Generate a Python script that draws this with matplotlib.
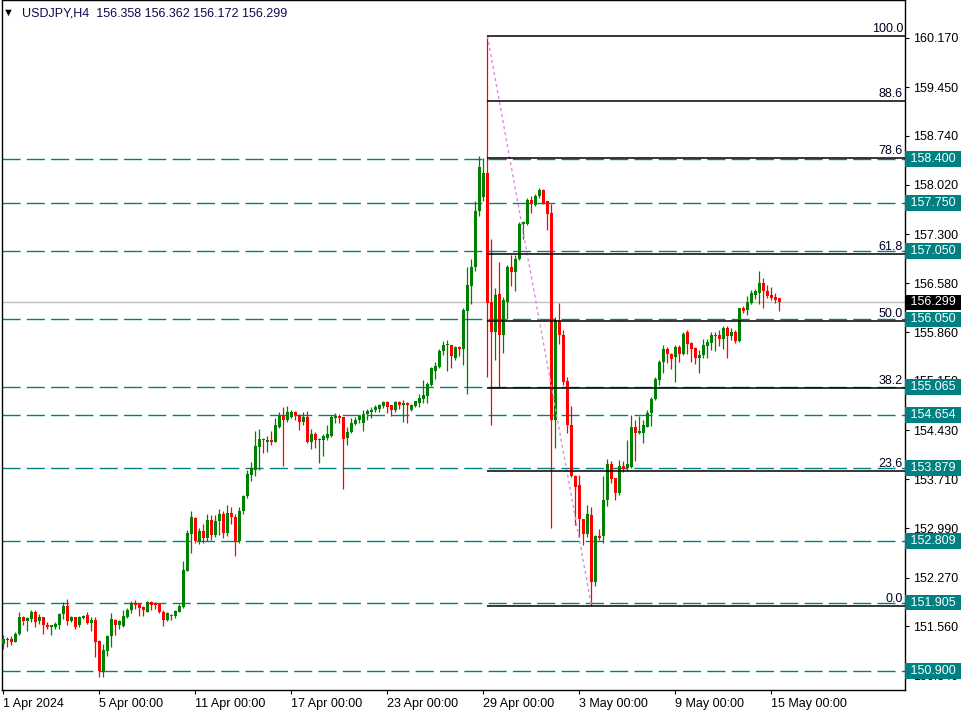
import numpy as np
import pandas as pd
import matplotlib
matplotlib.use("Agg")
import matplotlib.pyplot as plt

plt.rcParams['font.family'] = ['Liberation Sans', 'DejaVu Sans']

# =========================
# DATA  (USDJPY H4, 1 Apr - 15 May 2024)
# =========================
symbol = "USDJPY,H4"

opens = [
    151.30, 151.37, 151.37, 151.33, 151.44, 151.69, 151.63, 151.67, 151.77, 151.64,
    151.69, 151.58, 151.55, 151.54, 151.58, 151.73, 151.85, 151.64, 151.69, 151.57,
    151.68, 151.72, 151.61, 151.65, 151.34, 150.90, 151.20, 151.41, 151.65, 151.57,
    151.56, 151.70, 151.79, 151.90, 151.88, 151.84, 151.77, 151.91, 151.89, 151.88,
    151.77, 151.65, 151.72, 151.71, 151.77, 151.84, 152.37, 152.91, 153.14, 152.80,
    152.95, 152.85, 153.12, 152.90, 153.10, 153.20, 152.92, 153.22, 153.15, 152.80,
    153.25, 153.46, 153.77, 153.85, 154.18, 154.30, 154.26, 154.29, 154.26, 154.48,
    154.65, 154.57, 154.62, 154.69, 154.65, 154.55, 154.62, 154.26, 154.37, 154.28,
    154.28, 154.32, 154.35, 154.61, 154.64, 154.62, 154.31, 154.40, 154.52, 154.57,
    154.54, 154.67, 154.70, 154.72, 154.74, 154.78, 154.84, 154.79, 154.73, 154.84,
    154.80, 154.82, 154.73, 154.78, 154.83, 154.88, 154.93, 155.09, 155.30, 155.36,
    155.58, 155.68, 155.68, 155.49, 155.65, 155.62, 156.17, 156.54, 156.82, 157.63,
    157.84, 158.19, 156.30, 155.87, 156.42, 155.82, 156.31, 156.82, 156.75, 156.93,
    157.45, 157.45, 157.80, 157.73, 157.85, 157.94, 157.78, 157.61, 154.58, 156.02,
    155.82, 155.15, 154.50, 153.76, 153.62, 153.13, 152.91, 153.19, 152.20, 152.88,
    152.88, 153.40, 153.93, 153.73, 153.51, 153.90, 153.87, 153.89, 154.47, 154.39,
    154.39, 154.48, 154.68, 154.88, 155.16, 155.42, 155.61, 155.54, 155.50, 155.64,
    155.54, 155.86, 155.70, 155.63, 155.49, 155.53, 155.66, 155.71, 155.81, 155.82,
    155.76, 155.92, 155.80, 155.87, 155.74, 156.21, 156.19, 156.29, 156.41, 156.44,
    156.59, 156.47, 156.41, 156.38, 156.358,
]

highs = [
    151.43, 151.40, 151.41, 151.48, 151.77, 151.71, 151.70, 151.79, 151.80, 151.73,
    151.70, 151.62, 151.58, 151.62, 151.75, 151.91, 151.96, 151.71, 151.70, 151.71,
    151.72, 151.76, 151.70, 151.69, 151.35, 151.30, 151.43, 151.75, 151.66, 151.65,
    151.79, 151.82, 151.93, 151.94, 151.89, 151.85, 151.93, 151.92, 151.91, 151.89,
    151.79, 151.77, 151.74, 151.79, 151.89, 152.51, 152.97, 153.24, 153.15, 153.00,
    153.05, 153.20, 153.18, 153.18, 153.28, 153.25, 153.33, 153.30, 153.20, 153.30,
    153.48, 153.85, 153.96, 154.42, 154.45, 154.31, 154.34, 154.42, 154.61, 154.70,
    154.77, 154.78, 154.72, 154.71, 154.67, 154.70, 154.71, 154.45, 154.40, 154.32,
    154.37, 154.50, 154.65, 154.68, 154.66, 154.62, 154.48, 154.61, 154.62, 154.65,
    154.73, 154.74, 154.76, 154.79, 154.81, 154.85, 154.85, 154.80, 154.86, 154.86,
    154.87, 154.84, 154.81, 154.86, 154.96, 155.16, 155.13, 155.36, 155.42, 155.62,
    155.73, 155.75, 155.68, 155.66, 155.66, 156.21, 156.82, 156.94, 157.78, 158.44,
    158.42, 160.20, 157.23, 156.51, 156.89, 156.38, 156.85, 156.99, 156.99, 157.48,
    157.49, 157.82, 157.85, 157.89, 157.98, 157.96, 157.79, 157.74, 156.09, 156.29,
    155.90, 155.20, 154.78, 153.77, 153.77, 153.13, 153.33, 153.31, 152.90, 152.98,
    153.76, 154.01, 153.98, 153.73, 153.99, 153.97, 154.29, 154.65, 154.58, 154.64,
    154.58, 154.73, 154.91, 155.20, 155.46, 155.68, 155.65, 155.56, 155.68, 155.68,
    155.87, 155.90, 155.72, 155.65, 155.60, 155.76, 155.77, 155.87, 155.86, 155.90,
    155.95, 155.95, 155.92, 155.90, 156.22, 156.25, 156.39, 156.48, 156.49, 156.76,
    156.65, 156.55, 156.53, 156.43, 156.362,
]

lows = [
    151.22, 151.25, 151.28, 151.32, 151.43, 151.57, 151.49, 151.62, 151.55, 151.59,
    151.45, 151.52, 151.43, 151.52, 151.52, 151.67, 151.57, 151.62, 151.52, 151.55,
    151.67, 151.59, 151.49, 151.11, 150.81, 150.81, 151.12, 151.26, 151.43, 151.52,
    151.55, 151.68, 151.75, 151.81, 151.71, 151.71, 151.76, 151.80, 151.81, 151.75,
    151.56, 151.64, 151.65, 151.68, 151.76, 151.83, 152.36, 152.63, 152.78, 152.76,
    152.78, 152.80, 152.82, 152.86, 152.90, 152.85, 152.88, 153.05, 152.59, 152.78,
    153.20, 153.44, 153.69, 153.75, 153.85, 154.10, 154.11, 154.21, 154.25, 154.46,
    153.90, 154.55, 154.60, 154.58, 154.43, 154.50, 154.24, 154.15, 154.17, 153.95,
    154.05, 154.28, 154.33, 154.54, 154.53, 153.57, 154.21, 154.38, 154.50, 154.54,
    154.41, 154.57, 154.60, 154.69, 154.70, 154.75, 154.68, 154.64, 154.70, 154.74,
    154.55, 154.54, 154.71, 154.76, 154.76, 154.82, 154.83, 155.07, 155.18, 155.34,
    155.53, 155.30, 155.34, 155.46, 155.51, 155.38, 154.96, 156.28, 156.76, 157.56,
    157.79, 155.20, 154.50, 155.45, 155.04, 155.56, 156.05, 156.54, 156.47, 156.92,
    157.23, 157.43, 157.61, 157.71, 157.82, 157.74, 157.36, 153.00, 154.17, 155.69,
    155.09, 154.39, 153.74, 153.04, 152.87, 152.74, 152.87, 151.86, 152.15, 152.82,
    152.78, 153.32, 153.65, 153.41, 153.48, 153.81, 153.84, 153.87, 153.97, 154.37,
    154.24, 154.47, 154.49, 154.87, 155.09, 155.27, 155.41, 155.33, 155.14, 155.42,
    155.53, 155.54, 155.42, 155.40, 155.26, 155.48, 155.48, 155.60, 155.59, 155.66,
    155.61, 155.49, 155.75, 155.71, 155.72, 156.15, 156.11, 156.27, 156.35, 156.27,
    156.22, 156.37, 156.34, 156.29, 156.172,
]

closes = [
    151.37, 151.35, 151.33, 151.45, 151.69, 151.63, 151.68, 151.77, 151.62, 151.69,
    151.58, 151.55, 151.57, 151.59, 151.74, 151.85, 151.64, 151.69, 151.55, 151.69,
    151.71, 151.61, 151.65, 151.33, 150.90, 151.21, 151.42, 151.67, 151.57, 151.63,
    151.71, 151.80, 151.90, 151.87, 151.83, 151.80, 151.91, 151.87, 151.87, 151.76,
    151.65, 151.75, 151.71, 151.78, 151.85, 152.38, 152.92, 153.15, 152.80, 152.95,
    152.85, 153.12, 152.90, 153.10, 153.20, 152.92, 153.22, 153.15, 152.80, 153.25,
    153.46, 153.79, 153.87, 154.19, 154.30, 154.28, 154.29, 154.26, 154.50, 154.64,
    154.57, 154.69, 154.69, 154.65, 154.55, 154.62, 154.26, 154.37, 154.28, 154.30,
    154.34, 154.37, 154.62, 154.64, 154.61, 154.30, 154.40, 154.53, 154.58, 154.64,
    154.67, 154.71, 154.73, 154.76, 154.80, 154.84, 154.77, 154.73, 154.84, 154.80,
    154.82, 154.80, 154.80, 154.85, 154.90, 154.94, 155.11, 155.34, 155.37, 155.59,
    155.68, 155.69, 155.51, 155.65, 155.61, 156.19, 156.55, 156.82, 157.64, 158.28,
    158.19, 156.29, 155.87, 156.41, 155.82, 156.33, 156.82, 156.75, 156.94, 157.45,
    157.47, 157.80, 157.74, 157.86, 157.94, 157.76, 157.59, 154.58, 156.04, 155.82,
    155.14, 154.50, 153.76, 153.60, 153.13, 152.91, 153.20, 152.20, 152.88, 152.85,
    153.41, 153.93, 153.72, 153.51, 153.90, 153.86, 153.93, 154.47, 154.39, 154.41,
    154.50, 154.68, 154.88, 155.17, 155.43, 155.61, 155.54, 155.47, 155.64, 155.55,
    155.84, 155.69, 155.61, 155.48, 155.53, 155.68, 155.72, 155.82, 155.82, 155.77,
    155.92, 155.80, 155.87, 155.74, 156.21, 156.18, 156.30, 156.44, 156.47, 156.59,
    156.47, 156.39, 156.37, 156.33, 156.299,
]

# horizontal levels drawn by hand on the chart
levels = [158.400, 157.750, 157.050, 156.050, 155.065, 154.654, 153.879, 152.809, 151.905, 150.900]
last_price = 156.299

# fibonacci retracement
fib_high = 160.20
fib_low = 151.86
fib_high_time = "2024-04-29 04:00"
fib_low_time = "2024-05-03 12:00"
fib_levels = [0.0, 23.6, 38.2, 50.0, 61.8, 78.6, 88.6, 100.0]

price_ticks = [160.170, 159.450, 158.740, 158.020, 157.300, 156.580, 155.860,
               155.150, 154.430, 153.710, 152.990, 152.270, 151.560, 150.840]

# =========================
# BAR TIMES
# =========================
days = pd.bdate_range("2024-04-01", "2024-05-15")
bar_times = [d + pd.Timedelta(hours=h) for d in days for h in range(0, 24, 4)][:len(opens)]
n = len(opens)
x = np.arange(n)

o = np.array(opens)
h = np.array(highs)
l = np.array(lows)
c = np.array(closes)

GREEN = "#008000"
RED = "#ff0000"
TEAL = "#008080"
col = np.where(c >= o, GREEN, RED)

# =========================
# FIGURE
# =========================
W, H = 968, 718
fig = plt.figure(figsize=(W / 100, H / 100), dpi=100)
fig.patch.set_facecolor("white")
ax = fig.add_axes([2 / W, 28 / H, 903 / W, 690 / H])

ax.set_xlim(-0.35, 225.4)
ax.set_ylim(150.624, 160.726)

# level lines
for lv in levels:
    ax.axhline(lv, color=TEAL, lw=1.0, ls=(0, (13, 4.5)), zorder=1)
ax.axhline(last_price, color="#c0c0c0", lw=1.0, zorder=1)

# candles
ax.vlines(x, l, h, colors=col, lw=0.9, zorder=3)
body_low = np.minimum(o, c)
body_h = np.maximum(np.abs(c - o), 0.014)
ax.bar(x, body_h, bottom=body_low, width=0.72, color=col, lw=0, zorder=4)

# fibonacci
i_hi = bar_times.index(pd.Timestamp(fib_high_time))
i_lo = bar_times.index(pd.Timestamp(fib_low_time))
ax.plot([i_hi, i_lo], [fib_high, fib_low], color="#d88fd8", lw=1.0,
        ls=(0, (2.2, 2.2)), zorder=5)
xr = ax.get_xlim()[1]
for lvl in fib_levels:
    p = fib_low + lvl / 100 * (fib_high - fib_low)
    ax.hlines(p, i_hi, xr, color="black", lw=1.1, zorder=5)
    ax.annotate(f"{lvl:.1f}", xy=(1, p), xycoords=("axes fraction", "data"),
                xytext=(-2, 1), textcoords="offset pixels", ha="right", va="bottom",
                fontsize=9, color="#000020", zorder=6)

# axes styling
for s in ax.spines.values():
    s.set_color("black")
    s.set_linewidth(1.0)

ax.yaxis.tick_right()
ax.set_yticks(price_ticks)
ax.set_yticklabels([f"{t:.3f}" for t in price_ticks])
ax.tick_params(axis="y", direction="out", length=3, width=0.8, pad=2.5,
               labelsize=9, colors="black")

xt = list(range(0, n, 24))
xl = [bar_times[0].strftime("%-d %b %Y")] + [bar_times[k].strftime("%-d %b %H:%M") for k in xt[1:]]
ax.set_xticks(xt)
ax.set_xticklabels(xl, ha="left")
ax.tick_params(axis="x", direction="out", length=3, width=0.8, pad=3,
               labelsize=9, colors="black")

# right-side price boxes
box_style = dict(boxstyle="square,pad=0.15", ec="none")
for lv in levels:
    ax.annotate(f" {lv:.3f} ", xy=(1, lv), xycoords=("axes fraction", "data"),
                xytext=(2, 0), textcoords="offset pixels", ha="left", va="center",
                fontsize=9, color="white", annotation_clip=False, zorder=10,
                bbox=dict(box_style, fc=TEAL))
ax.annotate(f" {last_price:.3f} ", xy=(1, last_price), xycoords=("axes fraction", "data"),
            xytext=(2, 0), textcoords="offset pixels", ha="left", va="center",
            fontsize=9, color="white", annotation_clip=False, zorder=10,
            bbox=dict(box_style, fc="black"))

# header
fig.text(3 / W, 1 - 13 / H, "\u25bc", fontsize=8, color="black", va="center", ha="left")
fig.text(22 / W, 1 - 13 / H,
         f"{symbol}  {opens[-1]:.3f} {highs[-1]:.3f} {lows[-1]:.3f} {closes[-1]:.3f}",
         fontsize=9, color="#0a0a50", va="center", ha="left")

fig.savefig("out.png", dpi=100)
